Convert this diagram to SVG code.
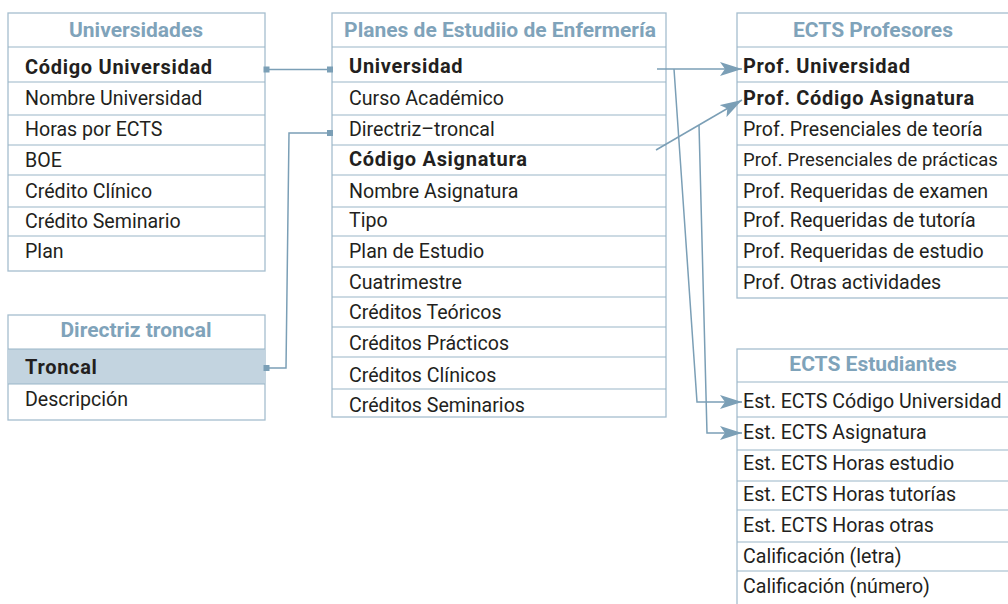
<svg xmlns="http://www.w3.org/2000/svg" width="1008" height="604" viewBox="0 0 1008 604">
<defs>
<style>
.box{fill:#fff;stroke:#a5bece;stroke-width:1.3}
.sep{stroke:#9ab6c8;stroke-width:1.2}
.hd{font-family:Roboto,"Liberation Sans",sans-serif;font-weight:bold;font-size:21px;fill:#7fa3ba;text-anchor:middle}
.t{font-family:Roboto,"Liberation Sans",sans-serif;font-size:19.6px;fill:#231f20}
.b{font-weight:bold;font-size:20px;letter-spacing:0.7px}
.con{fill:none;stroke:#7b9fb6;stroke-width:1.5}
.sq{fill:#7b9fb6}
</style>
<marker id="arr" markerUnits="userSpaceOnUse" viewBox="0 0 22 14" refX="22" refY="7" markerWidth="22" markerHeight="14" orient="auto">
<path d="M0,0 L22,7 L0,14 L5,7 Z" fill="#7b9fb6"/>
</marker>
</defs>

<g id="universidades">
<rect class="box" x="8" y="13" width="257" height="258"/>
<g class="sep"><line x1="8" y1="47" x2="265" y2="47"/><line x1="8" y1="82" x2="265" y2="82"/><line x1="8" y1="115" x2="265" y2="115"/><line x1="8" y1="145" x2="265" y2="145"/><line x1="8" y1="175" x2="265" y2="175"/><line x1="8" y1="207" x2="265" y2="207"/><line x1="8" y1="236" x2="265" y2="236"/></g>
<text class="hd" x="136" y="37">Universidades</text>
<text class="t b" x="25" y="74">Código Universidad</text>
<text class="t" x="25" y="105">Nombre Universidad</text>
<text class="t" x="25" y="136">Horas por ECTS</text>
<text class="t" x="25" y="167">BOE</text>
<text class="t" x="25" y="198">Crédito Clínico</text>
<text class="t" x="25" y="228">Crédito Seminario</text>
<text class="t" x="25" y="258">Plan</text>
</g>

<g id="directriz">
<rect class="box" x="8" y="315" width="257" height="105"/>
<rect x="8.6" y="349" width="255.8" height="35" fill="#c3d4e0"/>
<g class="sep"><line x1="8" y1="349" x2="265" y2="349"/><line x1="8" y1="384" x2="265" y2="384"/></g>
<text class="hd" x="136" y="337">Directriz troncal</text>
<text class="t b" x="25" y="374">Troncal</text>
<text class="t" x="25" y="406">Descripción</text>
</g>

<g id="planes">
<rect class="box" x="332" y="13" width="334" height="404"/>
<g class="sep"><line x1="332" y1="47" x2="666" y2="47"/><line x1="332" y1="82" x2="666" y2="82"/><line x1="332" y1="115" x2="666" y2="115"/><line x1="332" y1="145" x2="666" y2="145"/><line x1="332" y1="175" x2="666" y2="175"/><line x1="332" y1="207" x2="666" y2="207"/><line x1="332" y1="236" x2="666" y2="236"/><line x1="332" y1="267" x2="666" y2="267"/><line x1="332" y1="297" x2="666" y2="297"/><line x1="332" y1="327" x2="666" y2="327"/><line x1="332" y1="357" x2="666" y2="357"/><line x1="332" y1="389" x2="666" y2="389"/></g>
<text class="hd" x="500" y="37">Planes de Estudiio de Enfermería</text>
<text class="t b" x="349" y="73">Universidad</text>
<text class="t" x="349" y="105">Curso Académico</text>
<text class="t" x="349" y="136">Directriz–troncal</text>
<text class="t b" x="349" y="166">Código Asignatura</text>
<text class="t" x="349" y="198">Nombre Asignatura</text>
<text class="t" x="349" y="227">Tipo</text>
<text class="t" x="349" y="258">Plan de Estudio</text>
<text class="t" x="349" y="289">Cuatrimestre</text>
<text class="t" x="349" y="319">Créditos Teóricos</text>
<text class="t" x="349" y="350">Créditos Prácticos</text>
<text class="t" x="349" y="382">Créditos Clínicos</text>
<text class="t" x="349" y="412">Créditos Seminarios</text>
</g>

<g id="profesores">
<rect class="box" x="737" y="13" width="280" height="285"/>
<g class="sep"><line x1="737" y1="47" x2="1010" y2="47"/><line x1="737" y1="82" x2="1010" y2="82"/><line x1="737" y1="115" x2="1010" y2="115"/><line x1="737" y1="145" x2="1010" y2="145"/><line x1="737" y1="175" x2="1010" y2="175"/><line x1="737" y1="207" x2="1010" y2="207"/><line x1="737" y1="236" x2="1010" y2="236"/><line x1="737" y1="267" x2="1010" y2="267"/></g>
<text class="hd" x="873" y="37">ECTS Profesores</text>
<text class="t b" x="743" y="73">Prof. Universidad</text>
<text class="t b" x="743" y="105">Prof. Código Asignatura</text>
<text class="t" x="743" y="136">Prof. Presenciales de teoría</text>
<text class="t" x="743" y="166" style="font-size:18.5px">Prof. Presenciales de prácticas</text>
<text class="t" x="743" y="198">Prof. Requeridas de examen</text>
<text class="t" x="743" y="227">Prof. Requeridas de tutoría</text>
<text class="t" x="743" y="258">Prof. Requeridas de estudio</text>
<text class="t" x="743" y="289">Prof. Otras actividades</text>
</g>

<g id="estudiantes">
<rect class="box" x="737" y="349" width="280" height="262"/>
<g class="sep"><line x1="737" y1="382" x2="1010" y2="382"/><line x1="737" y1="417" x2="1010" y2="417"/><line x1="737" y1="450" x2="1010" y2="450"/><line x1="737" y1="481" x2="1010" y2="481"/><line x1="737" y1="510" x2="1010" y2="510"/><line x1="737" y1="542" x2="1010" y2="542"/><line x1="737" y1="571" x2="1010" y2="571"/></g>
<text class="hd" x="873" y="371">ECTS Estudiantes</text>
<text class="t" x="743" y="408">Est. ECTS Código Universidad</text>
<text class="t" x="743" y="439">Est. ECTS Asignatura</text>
<text class="t" x="743" y="470">Est. ECTS Horas estudio</text>
<text class="t" x="743" y="501">Est. ECTS Horas tutorías</text>
<text class="t" x="743" y="532">Est. ECTS Horas otras</text>
<text class="t" x="743" y="563">Calificación (letra)</text>
<text class="t" x="743" y="593">Calificación (número)</text>
</g>

<g id="connectors">
<path class="con" d="M269,69.5 H328"/>
<rect class="sq" x="263.5" y="66.5" width="6" height="6"/>
<rect class="sq" x="327" y="66.5" width="6" height="6"/>
<path class="con" d="M328,133 H289 L286,368 H268"/>
<rect class="sq" x="327" y="130" width="6" height="6"/>
<rect class="sq" x="263.5" y="365" width="6" height="6"/>
<path class="con" d="M657,69 H742" marker-end="url(#arr)"/>
<path class="con" d="M674,69 L697,402 H742" marker-end="url(#arr)"/>
<path class="con" d="M656,150 L742,100" marker-end="url(#arr)"/>
<path class="con" d="M699,125 L707,433 H742" marker-end="url(#arr)"/>
</g>
</svg>
